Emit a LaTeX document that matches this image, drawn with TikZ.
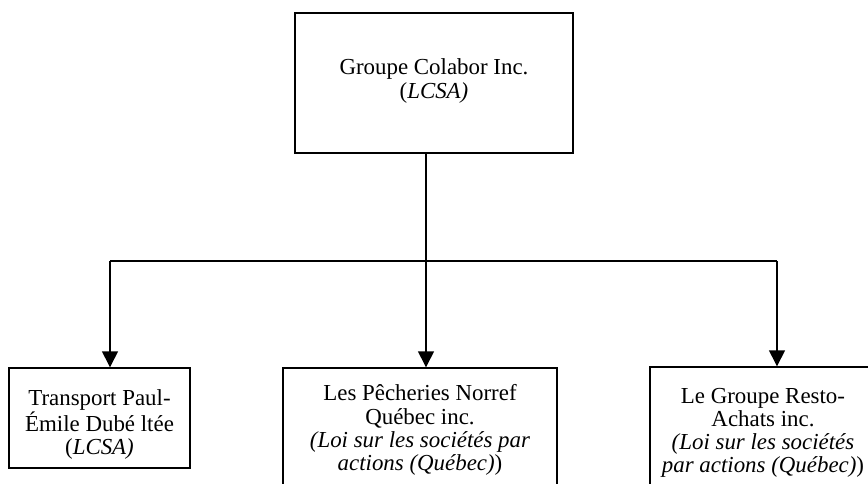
\documentclass[tikz,border=0pt]{standalone}
\usepackage{fontspec}
\setmainfont{Liberation Serif}
\usetikzlibrary{arrows.meta}
\begin{document}
\begin{tikzpicture}[x=1pt,y=-1pt,
  box/.style={draw,line width=1.4pt,inner sep=0pt},
  txt/.style={inner sep=0pt,align=center,
    font=\fontsize{22.9}{23.2}\selectfont},
  link/.style={line width=1.4pt},
  arr/.style={link,-{Triangle[length=16pt,width=16pt]}}]
\clip (0,0) rectangle (868,484);
\node[box,minimum width=278pt,minimum height=140pt,
  label={[txt,yshift=2pt]center:{Groupe Colabor Inc.\\(\textit{LCSA)}}}] (top) at (434,83) {};
\node[box,minimum width=181pt,minimum height=100pt,
  label={[txt,yshift=-6.5pt]center:{Transport Paul-\\Émile Dubé ltée\\(\textit{LCSA)}}}] (b1) at (99.5,418) {};
\node[box,minimum width=274pt,minimum height=118pt,
  label={[txt,yshift=-3pt]center:{Les Pêcheries Norref\\Québec inc.\\\textit{(Loi sur les sociétés par}\\\textit{actions (Québec)})}}] (b2) at (420,427) {};
\node[box,minimum width=226pt,minimum height=126pt,
  label={[txt,yshift=-3pt]center:{Le Groupe Resto-\\Achats inc.\\\textit{(Loi sur les sociétés}\\\textit{par actions (Québec)})}}] (b3) at (763,430) {};
\coordinate (j) at (426,261);
\coordinate (jl) at (110,261);
\coordinate (jr) at (777,261);
\draw[link] (top.south -| j) -- (j);
\draw[link] (jl) -- (jr);
\draw[arr] (jl) -- (jl |- b1.north);
\draw[arr] (j) -- (j |- b2.north);
\draw[arr] (jr) -- (jr |- b3.north);
\end{tikzpicture}
\end{document}
